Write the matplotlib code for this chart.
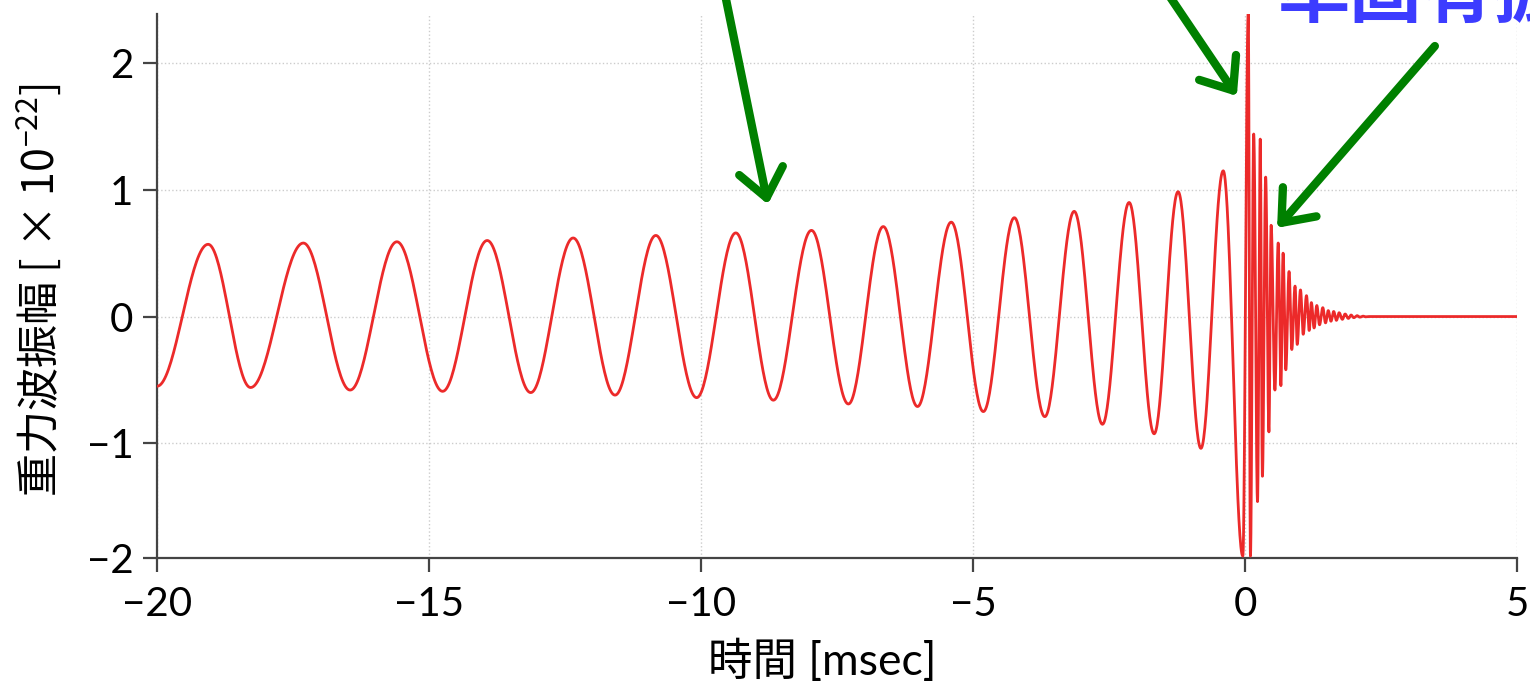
import numpy as np
import matplotlib
matplotlib.use("Agg")
import matplotlib.pyplot as plt
from matplotlib.patches import ArrowStyle

plt.rcParams['font.family'] = ['Lato', 'Noto Sans CJK JP', 'DejaVu Sans']
plt.rcParams['mathtext.fontset'] = 'custom'
plt.rcParams['mathtext.rm'] = 'Noto Sans CJK JP'
plt.rcParams['mathtext.it'] = 'Noto Sans CJK JP'
plt.rcParams['mathtext.bf'] = 'Noto Sans CJK JP'

# ---- data: extrema of the waveform (time [msec], amplitude [1e-22])
extrema_t = [-20.0, -19.06, -18.28, -17.31, -16.45, -15.59, -14.75, -13.93, -13.13,
             -12.35, -11.58, -10.83, -10.08, -9.36, -8.67, -7.97, -7.29, -6.65,
             -6.02, -5.40, -4.81, -4.24, -3.68, -3.14, -2.62, -2.13, -1.67, -1.23,
             -0.81, -0.40, -0.04, 0.06, 0.10, 0.16, 0.23, 0.28, 0.32, 0.38, 0.44,
             0.48, 0.55, 0.61, 0.66, 0.70, 0.75, 0.81, 0.86, 0.92, 0.96, 1.02,
             1.07, 1.13, 1.18, 1.22, 1.27, 1.32, 1.37, 1.43, 1.48, 1.53, 1.58,
             1.63, 1.68, 1.73, 1.79, 1.84, 1.90, 1.95, 2.00, 2.06, 2.11, 2.17,
             2.22, 2.28, 5.0]
extrema_h = [-0.55, 0.57, -0.56, 0.58, -0.58, 0.59, -0.59, 0.60, -0.60,
             0.62, -0.62, 0.64, -0.64, 0.66, -0.66, 0.68, -0.69, 0.71,
             -0.71, 0.745, -0.75, 0.78, -0.79, 0.83, -0.85, 0.90, -0.925, 0.985,
             -1.04, 1.15, -1.89, 2.39, -1.89, 1.44, -1.46, 1.40, -1.26, 1.10, -0.91,
             0.72, -0.58, 0.58, -0.545, 0.50, -0.42, 0.355, -0.26, 0.24, -0.22, 0.21,
             -0.14, 0.165, -0.11, 0.11, -0.09, 0.087, -0.065, 0.07, -0.05, 0.047, -0.037,
             0.04, -0.03, 0.03, -0.022, 0.02, -0.015, 0.012, -0.009, 0.007, -0.005, 0.003,
             -0.002, 0.0, 0.0]

xticks = [-20, -15, -10, -5, 0, 5]
xtick_labels = ['−20', '−15', '−10', '−5', '0', '5']
ytick_labels = ['−2', '−1', '0', '1', '2']

# annotation arrows (tail, tip) in data coordinates
arrow_tails = [(-9.56, 2.545), (-1.415, 2.545), (3.49, 2.134)]
arrow_tips = [(-8.77, 0.885), (-0.15, 1.74), (0.59, 0.70)]

# ---- render waveform: smooth half-cosine strokes between successive extrema
ts, hs = [], []
for i in range(len(extrema_t) - 1):
    t0, t1 = extrema_t[i], extrema_t[i + 1]
    h0, h1 = extrema_h[i], extrema_h[i + 1]
    s = np.linspace(0, 1, 40, endpoint=False)
    ts.append(t0 + (t1 - t0) * s)
    hs.append(h0 + (h1 - h0) * (1 - np.cos(np.pi * s)) / 2)
ts.append([extrema_t[-1]])
hs.append([extrema_h[-1]])
t = np.concatenate(ts)
h = np.concatenate(hs)

W, H = 1530, 690
AX_L, AX_R, AX_T, AX_B = 157, 1517, 14, 558
fig = plt.figure(figsize=(W / 100, H / 100), dpi=100)
ax = fig.add_axes([AX_L / W, 1 - AX_B / H, (AX_R - AX_L) / W, (AX_B - AX_T) / H])

YBOT, YTOP = -1.905, 2.387
ax.set_xlim(-20, 5)
ax.set_ylim(YBOT, YTOP)

ax.plot(t, h, color='#ec2a2a', lw=2.0, solid_joinstyle='round', zorder=3)

ax.set_xticks(xticks)
ax.set_xticklabels(xtick_labels)
ax.set_yticks([YBOT, -1, 0, 1, 2])
ax.set_yticklabels(ytick_labels)

for sp in ['top', 'right']:
    ax.spines[sp].set_visible(False)
for sp in ['left', 'bottom']:
    ax.spines[sp].set_color('#444444')
    ax.spines[sp].set_linewidth(1.6)

ax.tick_params(axis='both', direction='out', length=10, width=1.6, color='#444444',
               labelsize=29, labelcolor='black')
ax.tick_params(axis='x', pad=10)
ax.tick_params(axis='y', pad=7)

ax.grid(True, color='#cccccc', linestyle=':', linewidth=1.0, zorder=0)
ax.set_axisbelow(True)

ax.set_xlabel('時間 [msec]', fontsize=32)
ax.xaxis.set_label_coords((822 - AX_L) / (AX_R - AX_L), -(640 - AX_B) / (AX_B - AX_T))
ax.set_ylabel('重力波振幅 [ × 10$^{-22}$]', fontsize=31,
              fontfamily='Noto Sans CJK JP')
ax.yaxis.set_label_coords(-(AX_L - 64) / (AX_R - AX_L), (AX_B - 290) / (AX_B - AX_T))

for (tx, ty), (hx, hy) in zip(arrow_tails, arrow_tips):
    ax.annotate('', xy=(hx, hy), xytext=(tx, ty), xycoords='data', textcoords='data',
                annotation_clip=False,
                arrowprops=dict(arrowstyle=ArrowStyle('->', head_length=20, head_width=16),
                                mutation_scale=1, lw=6.0, color='#008000',
                                shrinkA=0, shrinkB=0, capstyle='round', joinstyle='round'))

fig.text(1278 / W, 1 - 17 / H, '準固有振動', fontsize=52, fontweight='bold',
         color='#3c3cff', ha='left', va='baseline', fontfamily='Noto Sans CJK JP')

fig.savefig('out.png', dpi=100, facecolor='white')
